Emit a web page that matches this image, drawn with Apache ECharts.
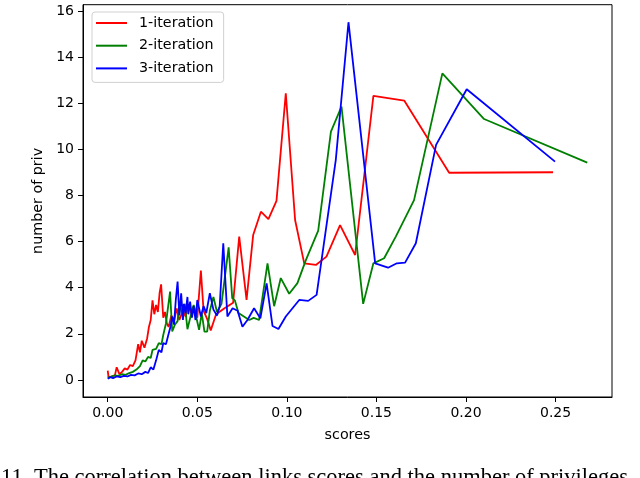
<!DOCTYPE html>
<html>
<head>
<meta charset="utf-8">
<script src="https://cdn.jsdelivr.net/npm/echarts@6/dist/echarts.min.js"></script>
<style>
html,body{margin:0;padding:0;background:#fff;}
#c{width:640px;height:478px;}
</style>
</head>
<body>
<div id="c"></div>
<script>
// ---- data ----
const seriesNames = ['1-iteration', '2-iteration', '3-iteration'];

const redX = [0.0000,0.0005,0.002,0.004,0.005,0.0065,0.008,0.0095,0.011,0.0125,0.014,0.0155,0.017,0.018,0.019,0.0205,0.022,0.023,0.024,0.025,0.026,0.027,0.028,0.029,0.0298,0.031,0.032,0.033,0.034,0.0355,0.037,0.0385,0.040,0.042,0.0435,0.045,0.0465,0.048,0.050,0.052,0.0535,0.0555,0.0575,0.0605,0.065,0.070,0.0734,0.0775,0.0812,0.0855,0.0897,0.0942,0.0994,0.1046,0.1097,0.1162,0.1221,0.1297,0.1381,0.1483,0.1655,0.1906,0.2486];
const redY = [0.40,0.10,0.15,0.20,0.55,0.25,0.35,0.50,0.45,0.65,0.60,0.85,1.55,1.20,1.70,1.40,1.80,2.30,2.60,3.45,2.85,3.25,2.95,3.80,4.15,2.70,2.95,2.45,2.30,2.80,2.55,3.10,2.60,3.00,2.75,3.30,2.90,3.20,2.70,4.75,3.00,2.65,2.15,2.85,3.10,3.35,6.22,3.47,6.29,7.30,6.98,7.77,12.44,6.94,5.06,4.99,5.35,6.72,5.42,12.32,12.12,8.99,9.01];

const greenX = [0.0000,0.002,0.004,0.006,0.008,0.010,0.012,0.014,0.016,0.018,0.0195,0.021,0.0225,0.024,0.025,0.027,0.0285,0.030,0.031,0.0325,0.0335,0.0348,0.036,0.0375,0.039,0.040,0.0415,0.043,0.0445,0.0455,0.047,0.048,0.0495,0.051,0.0525,0.054,0.0555,0.057,0.059,0.061,0.0635,0.0675,0.0695,0.071,0.073,0.076,0.079,0.0815,0.0845,0.0892,0.0929,0.0966,0.1013,0.1059,0.1106,0.1175,0.1246,0.1305,0.1426,0.1483,0.1543,0.1608,0.1710,0.1868,0.2101,0.2677];
const greenY = [0.10,0.15,0.20,0.18,0.25,0.22,0.30,0.35,0.45,0.60,0.85,0.80,1.00,0.95,1.30,1.35,1.60,1.55,1.95,2.45,2.50,3.83,2.10,2.40,2.55,3.40,2.80,3.30,2.20,2.17,3.00,3.25,2.70,2.17,2.90,2.10,2.10,3.00,3.60,2.95,3.30,5.75,3.55,3.45,2.90,2.75,2.60,2.69,2.60,5.06,3.20,4.42,3.74,4.20,5.20,6.48,10.77,11.86,3.30,5.06,5.28,6.22,7.80,13.30,11.32,9.43];

const blueX = [0.0000,0.0015,0.003,0.005,0.007,0.009,0.011,0.013,0.015,0.017,0.019,0.021,0.0225,0.024,0.0255,0.027,0.0285,0.030,0.031,0.0325,0.034,0.035,0.036,0.037,0.038,0.039,0.040,0.041,0.042,0.0425,0.0435,0.0445,0.045,0.046,0.047,0.048,0.049,0.050,0.052,0.0535,0.055,0.057,0.059,0.061,0.0625,0.0645,0.0668,0.0697,0.0725,0.0752,0.078,0.0817,0.0852,0.0887,0.0920,0.0953,0.0994,0.1069,0.1119,0.1166,0.1273,0.1344,0.1493,0.1565,0.1614,0.1660,0.1720,0.1833,0.2004,0.2497];
const blueY = [0.05,0.12,0.08,0.15,0.12,0.18,0.15,0.22,0.20,0.28,0.25,0.35,0.30,0.55,0.45,0.85,1.30,1.20,1.60,1.55,2.00,2.30,2.75,2.40,3.47,4.27,2.80,3.76,2.60,3.30,2.90,3.60,2.85,3.40,2.70,3.20,2.60,3.47,2.75,3.20,2.90,3.76,3.05,2.80,3.20,5.93,2.75,3.11,3.00,2.31,2.60,3.11,2.67,4.19,2.34,2.21,2.75,3.47,3.43,3.69,9.54,15.52,5.06,4.87,5.06,5.09,5.93,10.20,12.61,9.47];

const xTicks = [0, 0.05, 0.10, 0.15, 0.20, 0.25];
const yTicks = [0, 2, 4, 6, 8, 10, 12, 14, 16];
const xTitle = 'scores';
const yTitle = 'number of priv';
const caption = '11. The correlation between links scores and the number of privileges';

const colors = ['#ff0000', '#008000', '#0000ff'];
const font = 'DejaVu Sans';

function pairs(xs, ys) { return xs.map((x, i) => [x, ys[i]]); }

const chart = echarts.init(document.getElementById('c'), null, {renderer: 'canvas'});
const lineSeries = [
  pairs(redX, redY), pairs(greenX, greenY), pairs(blueX, blueY)
].map((d, i) => ({
  name: seriesNames[i],
  type: 'line',
  data: d,
  showSymbol: false,
  symbol: 'none',
  animation: false,
  lineStyle: {color: colors[i], width: 1.8},
  itemStyle: {color: colors[i]}
}));

chart.setOption({
  animation: false,
  backgroundColor: '#fff',
  grid: {left: 83, right: 28, top: 4.7, bottom: 81, show: true, borderColor: '#000', borderWidth: 1, backgroundColor: 'transparent'},
  xAxis: {
    type: 'value', min: -0.0138, max: 0.2815,
    name: xTitle, nameLocation: 'middle', nameGap: 31,
    nameTextStyle: {fontFamily: font, fontSize: 14.3, color: '#000'},
    axisLine: {show: true, onZero: false, lineStyle: {color: '#000', width: 1}},
    axisTick: {show: true, inside: false, length: 5, lineStyle: {color: '#000'}, customValues: xTicks},
    axisLabel: {fontFamily: font, fontSize: 14, color: '#000', margin: 9, customValues: xTicks,
      formatter: v => v.toFixed(2)},
    splitLine: {show: false}
  },
  yAxis: {
    type: 'value', min: -0.74, max: 16.28,
    name: yTitle, nameLocation: 'middle', nameGap: 36, nameRotate: 90,
    nameTextStyle: {fontFamily: font, fontSize: 14.3, color: '#000'},
    axisLine: {show: true, onZero: false, lineStyle: {color: '#000', width: 1}},
    axisTick: {show: true, inside: false, length: 5, lineStyle: {color: '#000'}, customValues: yTicks},
    axisLabel: {fontFamily: font, fontSize: 14, color: '#000', margin: 9, customValues: yTicks},
    splitLine: {show: false}
  },
  legend: {
    show: true, orient: 'vertical', left: 92, top: 12,
    data: seriesNames.map((n, i) => ({name: n, icon: 'rect', itemStyle: {color: colors[i]}})),
    itemWidth: 31, itemHeight: 2, itemGap: 6.7,
    padding: [3, 10, 6, 4],
    backgroundColor: 'rgba(255,255,255,0.85)', borderColor: '#d0d0d0', borderWidth: 1, borderRadius: 3,
    textStyle: {fontFamily: font, fontSize: 14.3, color: '#000', lineHeight: 16, padding: [0, 0, 0, 7]}
  },
  graphic: [{
    type: 'text', left: 1, top: 467,
    style: {text: caption, font: '22.5px "Liberation Serif"', fill: '#000'}
  }],
  series: lineSeries
});
</script>
</body>
</html>
